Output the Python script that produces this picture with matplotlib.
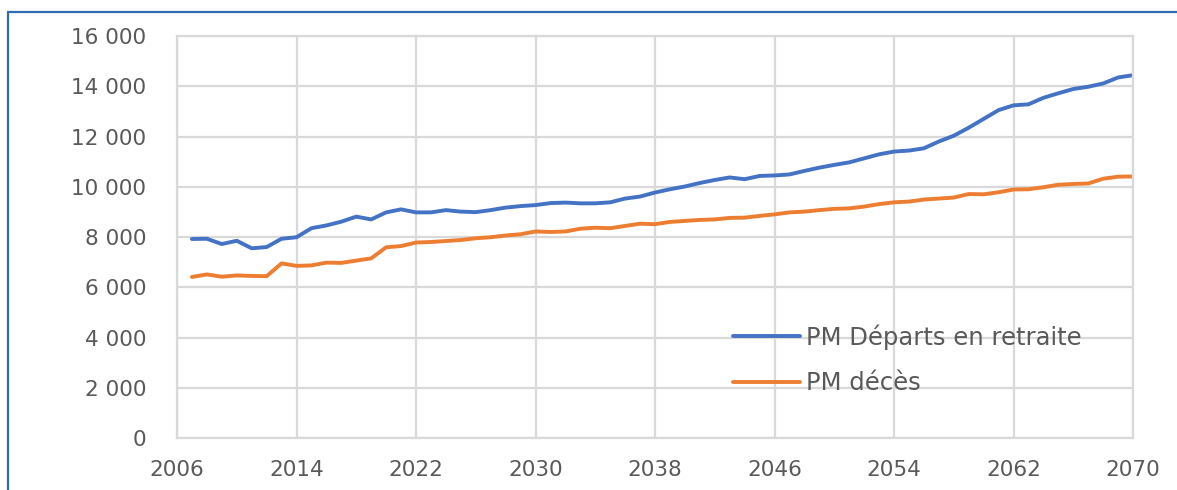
import matplotlib
matplotlib.use("Agg")
import matplotlib.pyplot as plt
from matplotlib.patches import Rectangle
from matplotlib.ticker import FuncFormatter

years = list(range(2007, 2071))
departs = [7920, 7930, 7720, 7850, 7550, 7600, 7930, 7990, 8350, 8460,
           8610, 8810, 8700, 8980, 9100, 8980, 8980, 9070, 9010, 8990,
           9070, 9170, 9230, 9270, 9350, 9370, 9340, 9340, 9380, 9530,
           9610, 9770, 9900, 10010, 10150, 10270, 10370, 10300, 10430, 10450,
           10490, 10630, 10760, 10870, 10970, 11130, 11290, 11400, 11440, 11530,
           11800, 12030, 12350, 12700, 13050, 13240, 13280, 13540, 13720, 13890,
           13980, 14110, 14350, 14440]
deces = [6410, 6510, 6420, 6470, 6450, 6440, 6950, 6850, 6870, 6980,
         6970, 7060, 7150, 7590, 7640, 7780, 7800, 7840, 7880, 7950,
         7990, 8060, 8110, 8220, 8200, 8220, 8330, 8370, 8350, 8440,
         8530, 8510, 8600, 8640, 8680, 8700, 8760, 8770, 8840, 8900,
         8980, 9010, 9070, 9120, 9140, 9210, 9310, 9380, 9410, 9490,
         9530, 9570, 9710, 9700, 9780, 9890, 9900, 9980, 10080, 10110,
         10130, 10320, 10400, 10410]
labels = ["PM Départs en retraite", "PM décès"]
x_ticks = list(range(2006, 2071, 8))
y_ticks = list(range(0, 16001, 2000))

W, H = 1177, 490
fig = plt.figure(figsize=(W / 100, H / 100), dpi=100)
plt.rcParams["font.family"] = ["DejaVu Sans"]

# outer blue frame
fig.patches.append(Rectangle((8 / W, -0.05), 1.2, 1 - 12 / H + 0.05,
                             transform=fig.transFigure, fill=False,
                             edgecolor="#2E6DB4", linewidth=1.6))

ax = fig.add_axes([177 / W, 1 - 438 / H, (1133 - 177) / W, (438 - 36) / H])
ax.plot(years, departs, color="#4472C4", linewidth=2.8, label=labels[0],
        solid_capstyle="round", solid_joinstyle="round")
ax.plot(years, deces, color="#ED7D31", linewidth=2.8, label=labels[1],
        solid_capstyle="round", solid_joinstyle="round")

ax.set_xlim(2006, 2070)
ax.set_ylim(0, 16000)
ax.set_xticks(x_ticks)
ax.set_yticks(y_ticks)
ax.yaxis.set_major_formatter(FuncFormatter(lambda v, p: f"{int(v):,}".replace(",", " ")))
ax.grid(True, color="#D9D9D9", linewidth=1.6)
ax.set_axisbelow(True)
for s in ax.spines.values():
    s.set_color("#D9D9D9")
    s.set_linewidth(1.6)
ax.tick_params(length=0, labelsize=15.5, labelcolor="#595959")
ax.tick_params(axis="x", pad=16)
ax.tick_params(axis="y", pad=22)

leg = ax.legend(loc="upper left", bbox_to_anchor=(733 / W, 1 - 324 / H),
                bbox_transform=fig.transFigure, frameon=False,
                fontsize=17.5, handlelength=2.75, handletextpad=0.25,
                labelspacing=0.9, borderpad=0, borderaxespad=0)
for t in leg.get_texts():
    t.set_color("#595959")

fig.savefig("out.png", dpi=100)
